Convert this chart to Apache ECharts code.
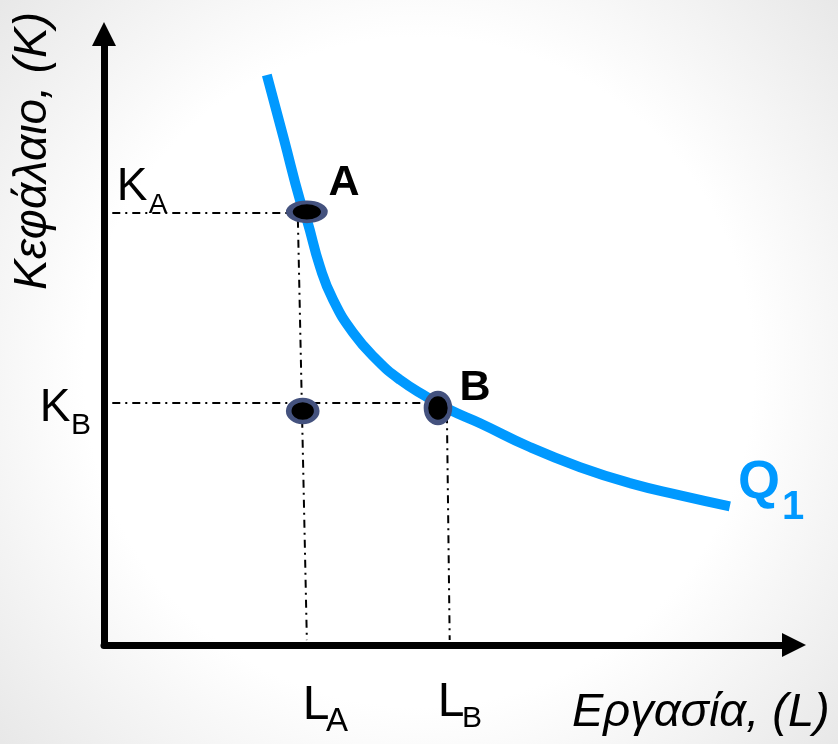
<!DOCTYPE html>
<html>
<head>
<meta charset="utf-8">
<title>Isoquant Q1</title>
<script src="https://cdn.jsdelivr.net/npm/echarts@6/dist/echarts.min.js"></script>
<style>
  html, body { margin: 0; padding: 0; }
  #chart { width: 838px; height: 744px; }
</style>
</head>
<body>
<div id="chart"></div>
<script>
// isoquant Q1 (L = labour, K = capital), arbitrary 0-100 units
const curveL = [23.6, 26.1, 28.4, 29.4, 31.3, 33.2, 36.1, 39.6, 42.9, 46.8, 50.1, 54.5, 61.7, 69.0, 76.2, 83.5, 90.7];
const curveK = [93.3, 82.7, 72.8, 69.6, 61.9, 56.5, 51.1, 46.6, 43.4, 40.6, 38.5, 36.3, 32.4, 29.1, 26.5, 24.5, 22.7];

const pointA = [29.4, 70.9];
const pointMid = [28.8, 38.3];
const pointB = [48.4, 38.8];

// dash-dot guide lines (start, end)
const guideKA = [[1.2, 70.7], [29.4, 70.7]];
const guideLA = [[28.1, 69.6], [29.4, 0.8]];
const guideKB = [[1.2, 39.6], [48.4, 39.6]];
const guideLB = [[49.7, 37.6], [50.1, 0.8]];

const curveData = curveL.map((l, i) => [l, curveK[i]]);

const font = '"Liberation Sans", Arial, sans-serif';
const dashDot = [8, 5, 2, 5];

function guide(data) {
  return {
    type: "line",
    data: data,
    symbol: "none",
    silent: true,
    z: 1,
    lineStyle: { color: "#000", width: 2, type: dashDot }
  };
}

function dot(value, size) {
  return {
    value: value,
    symbolSize: size
  };
}

function txt(text, x, y, style, extra) {
  return Object.assign(
    {
      type: "text",
      x: x,
      y: y,
      z: 100,
      style: Object.assign(
        { text: text, fill: "#000", textAlign: "center", textVerticalAlign: "middle" },
        style
      )
    },
    extra || {}
  );
}

function axisStyle() {
  return {
    type: "value",
    min: 0,
    max: 100,
    axisLine: {
      show: true,
      onZero: false,
      symbol: ["none", "triangle"],
      symbolSize: [24, 24],
      lineStyle: { color: "#000", width: 7 }
    },
    axisTick: { show: false },
    axisLabel: { show: false },
    splitLine: { show: false }
  };
}

const chart = echarts.init(document.getElementById("chart"));
chart.setOption({
  animation: false,
  backgroundColor: {
    type: "radial",
    x: 0.5,
    y: 0.5,
    r: 0.75,
    colorStops: [
      { offset: 0, color: "#ffffff" },
      { offset: 0.6, color: "#ffffff" },
      { offset: 1, color: "#e8e8e8" }
    ]
  },
  grid: { left: 104, right: 44, top: 34, bottom: 99 },
  xAxis: axisStyle(),
  yAxis: axisStyle(),
  series: [
    guide(guideKA),
    guide(guideLA),
    guide(guideKB),
    guide(guideLB),
    {
      type: "line",
      data: curveData,
      symbol: "none",
      smooth: 0.5,
      z: 3,
      lineStyle: { color: "#0099ff", width: 10, cap: "butt" }
    },
    {
      type: "scatter",
      symbol: "circle",
      z: 5,
      itemStyle: { color: "#000", borderColor: "#44527e", borderWidth: 5, opacity: 1 },
      data: [dot(pointA, [35, 19]), dot(pointMid, [28, 22]), dot(pointB, [24, 29])]
    }
  ],
  graphic: [
    txt("Κεφάλαιο, (K)", 33, 151, { font: "italic 46px " + font }, { rotation: Math.PI / 2 }),
    txt("Εργασία, (L)", 572, 713, { font: "italic 47px " + font, textAlign: "left" }),
    txt("K", 132, 187, { font: "46px " + font }),
    txt("A", 158, 205, { font: "28px " + font }),
    txt("K", 55, 408, { font: "46px " + font }),
    txt("B", 81, 426, { font: "30px " + font }),
    txt("L", 316, 706, { font: "48px " + font }),
    txt("A", 337, 722, { font: "33px " + font }),
    txt("L", 451, 703, { font: "48px " + font }),
    txt("B", 472, 719, { font: "30px " + font }),
    txt("A", 344, 183, { font: "bold 43px " + font }),
    txt("B", 475, 388, { font: "bold 43px " + font }),
    txt("Q", 759, 483, { font: "bold 54px " + font, fill: "#0099ff" }),
    txt("1", 793, 508, { font: "bold 40px " + font, fill: "#0099ff" })
  ]
});
</script>
</body>
</html>
